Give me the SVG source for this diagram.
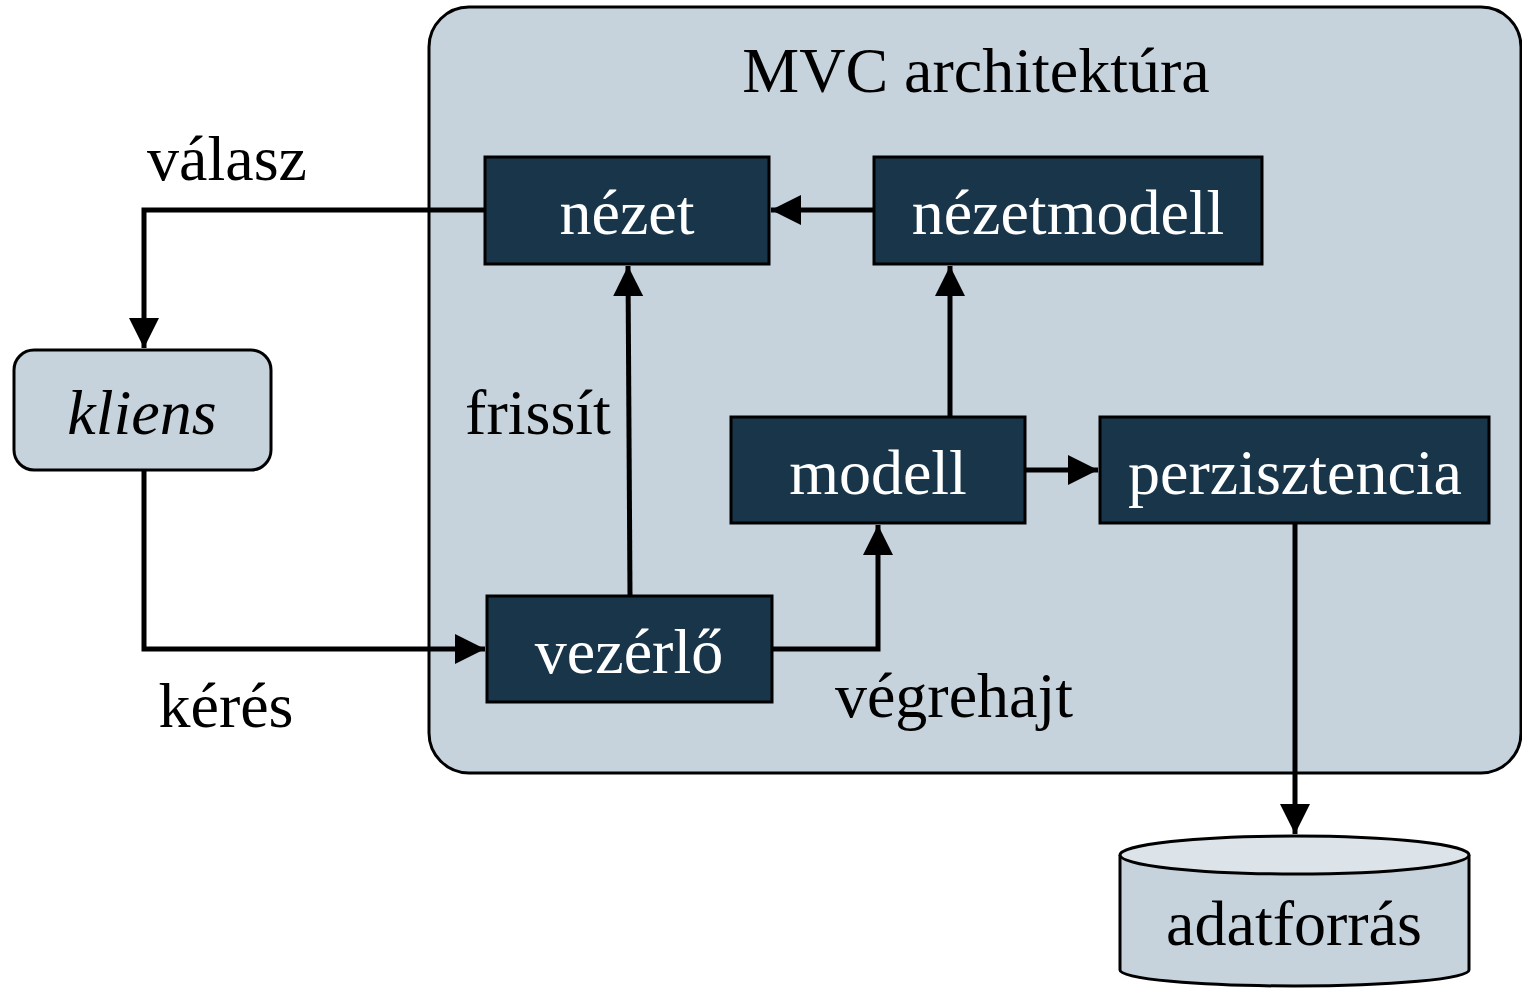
<svg xmlns="http://www.w3.org/2000/svg" width="1522" height="989" viewBox="0 0 1522 989">
<defs>
<marker id="ah" markerUnits="userSpaceOnUse" markerWidth="32" markerHeight="32" viewBox="0 0 32 32" refX="30" refY="16" orient="auto">
<path d="M0,1 L30,16 L0,31 Z" fill="#000"/>
</marker>
</defs>
<style>
text{font-family:"Liberation Serif","Times New Roman",serif;font-size:64px;text-anchor:middle;fill:#000}
.dark rect{fill:#183549;stroke:#000;stroke-width:3}
.dark text{fill:#fff}
.conn path{fill:none;stroke:#000;stroke-width:5;stroke-linejoin:miter}
</style>
<rect width="1522" height="989" fill="#fff"/>
<g id="container">
<rect x="429" y="7" width="1092" height="766" rx="40" fill="#C6D3DC" stroke="#000" stroke-width="3"/>
<text x="976" y="92">MVC architektúra</text>
</g>
<g id="connectors" class="conn">
<path d="M485,210 H144 V348" marker-end="url(#ah)"/>
<path d="M144,470 V649 H485" marker-end="url(#ah)"/>
<path d="M630,596 L628,266" marker-end="url(#ah)"/>
<path d="M772,649 H878 V525" marker-end="url(#ah)"/>
<path d="M950,417 V266" marker-end="url(#ah)"/>
<path d="M874,210 H771" marker-end="url(#ah)"/>
<path d="M1025,470 H1098" marker-end="url(#ah)"/>
<path d="M1295,523 V834" marker-end="url(#ah)"/>
</g>
<g id="labels">
<text x="227" y="180">válasz</text>
<text x="538" y="434">frissít</text>
<text x="226" y="727">kérés</text>
<text x="954" y="717">végrehajt</text>
</g>
<g id="kliens">
<rect x="14" y="350" width="257" height="120" rx="20" fill="#C6D3DC" stroke="#000" stroke-width="3"/>
<text x="142" y="434" font-style="italic">kliens</text>
</g>
<g id="nezet" class="dark">
<rect x="485" y="157" width="284" height="107"/>
<text x="627" y="234">nézet</text>
</g>
<g id="nezetmodell" class="dark">
<rect x="874" y="157" width="388" height="107"/>
<text x="1068" y="234">nézetmodell</text>
</g>
<g id="modell" class="dark">
<rect x="731" y="417" width="294" height="106"/>
<text x="878" y="494">modell</text>
</g>
<g id="perzisztencia" class="dark">
<rect x="1100" y="417" width="389" height="106"/>
<text x="1295" y="494">perzisztencia</text>
</g>
<g id="vezerlo" class="dark">
<rect x="487" y="596" width="285" height="106"/>
<text x="629" y="673">vezérlő</text>
</g>
<g id="adatforras">
<path d="M1120,855 V970 A174.5,16 0 0 0 1469,970 V855" fill="#C6D3DC" stroke="#000" stroke-width="3"/>
<ellipse cx="1294.5" cy="855" rx="174.5" ry="19" fill="#DCE4EA" stroke="#000" stroke-width="3"/>
<text x="1294" y="945">adatforrás</text>
</g>
</svg>
